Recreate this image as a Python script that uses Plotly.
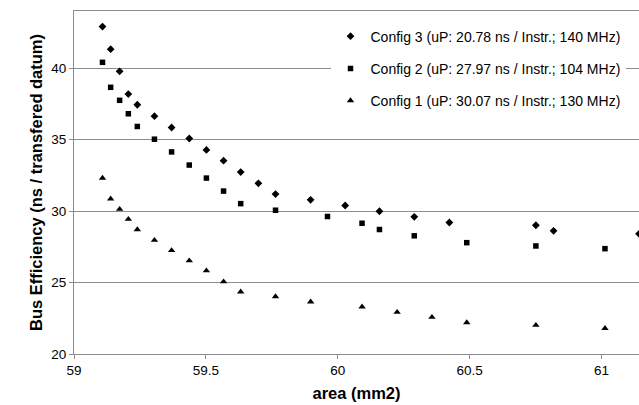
import plotly.graph_objects as go

# x positions (area, mm2)
x3 = [59.108, 59.139, 59.173, 59.206, 59.240, 59.305, 59.370, 59.437, 59.502, 59.567,
      59.632, 59.699, 59.764, 59.897, 60.028, 60.158, 60.290, 60.423, 60.751, 60.818, 61.142]
y3 = [42.91, 41.33, 39.78, 38.19, 37.44, 36.64, 35.85, 35.08, 34.28, 33.53,
      32.73, 31.94, 31.19, 30.79, 30.39, 29.99, 29.60, 29.20, 29.01, 28.62, 28.41]

x2 = [59.108, 59.139, 59.173, 59.206, 59.240, 59.305, 59.370, 59.437, 59.502, 59.567,
      59.632, 59.764, 59.961, 60.092, 60.158, 60.290, 60.489, 60.751, 61.013]
y2 = [40.41, 38.66, 37.75, 36.81, 35.92, 35.03, 34.14, 33.22, 32.31, 31.40,
      30.52, 30.06, 29.62, 29.15, 28.71, 28.27, 27.79, 27.56, 27.37]

x1 = [59.108, 59.139, 59.173, 59.206, 59.240, 59.305, 59.370, 59.437, 59.502, 59.567,
      59.632, 59.764, 59.897, 60.092, 60.225, 60.357, 60.489, 60.751, 61.013]
y1 = [32.31, 30.86, 30.13, 29.43, 28.71, 27.96, 27.25, 26.53, 25.83, 25.06,
      24.35, 24.02, 23.65, 23.30, 22.93, 22.58, 22.20, 22.02, 21.80]

names = ["Config 3 (uP: 20.78 ns / Instr.; 140 MHz)",
         "Config 2 (uP: 27.97 ns / Instr.; 104 MHz)",
         "Config 1 (uP: 30.07 ns / Instr.; 130 MHz)"]

x_ticks = [59, 59.5, 60, 60.5, 61]
y_ticks = [20, 25, 30, 35, 40]

FONT = "Arial, Liberation Sans, sans-serif"

fig = go.Figure()
series = [(x3, y3, names[0], "diamond", 6),
          (x2, y2, names[1], "square", 5.5),
          (x1, y1, names[2], "triangle-up", 6.5)]
for i, (xs, ys, nm, sym, sz) in enumerate(series):
    fig.add_trace(go.Scatter(
        x=xs, y=ys, mode="markers", name=nm, legendgroup=f"g{i}",
        marker=dict(symbol=sym, size=sz, color="black", line=dict(width=0)),
    ))

fig.update_layout(
    width=639, height=405,
    margin=dict(l=74, r=0, t=11, b=51, autoexpand=False),
    paper_bgcolor="white", plot_bgcolor="white",
    font=dict(family=FONT, size=13.5, color="black"),
    showlegend=True,
    legend=dict(
        x=0.454, y=0.972, xanchor="left", yanchor="top",
        bgcolor="white", borderwidth=0,
        font=dict(family=FONT, size=14, color="black"),
        tracegroupgap=11, traceorder="grouped",
    ),
    xaxis=dict(
        range=[59, 61.142], tickvals=x_ticks, ticktext=[str(v) for v in x_ticks],
        showgrid=False, zeroline=False, automargin=False,
        showline=True, linecolor="#8c8c8c", linewidth=1, mirror=True,
        ticks="outside", ticklen=4, tickcolor="#8c8c8c",
        title=dict(text="<b>area (mm2)</b>", font=dict(family=FONT, size=16.5), standoff=10),
    ),
    yaxis=dict(
        range=[20, 44], tickvals=y_ticks, ticktext=[str(v) for v in y_ticks],
        showgrid=True, gridcolor="#8c8c8c", gridwidth=1, zeroline=False, automargin=False,
        showline=True, linecolor="#8c8c8c", linewidth=1,
        ticks="outside", ticklen=4, tickcolor="#8c8c8c",
        title=dict(text="<b>Bus Efficiency (ns / transfered datum)</b>",
                   font=dict(family=FONT, size=16.5), standoff=4),
    ),
)

fig.write_html(
    "out.html",
    config={"displayModeBar": False},
    post_script="document.body.style.margin='0';document.body.style.overflow='hidden';",
)
